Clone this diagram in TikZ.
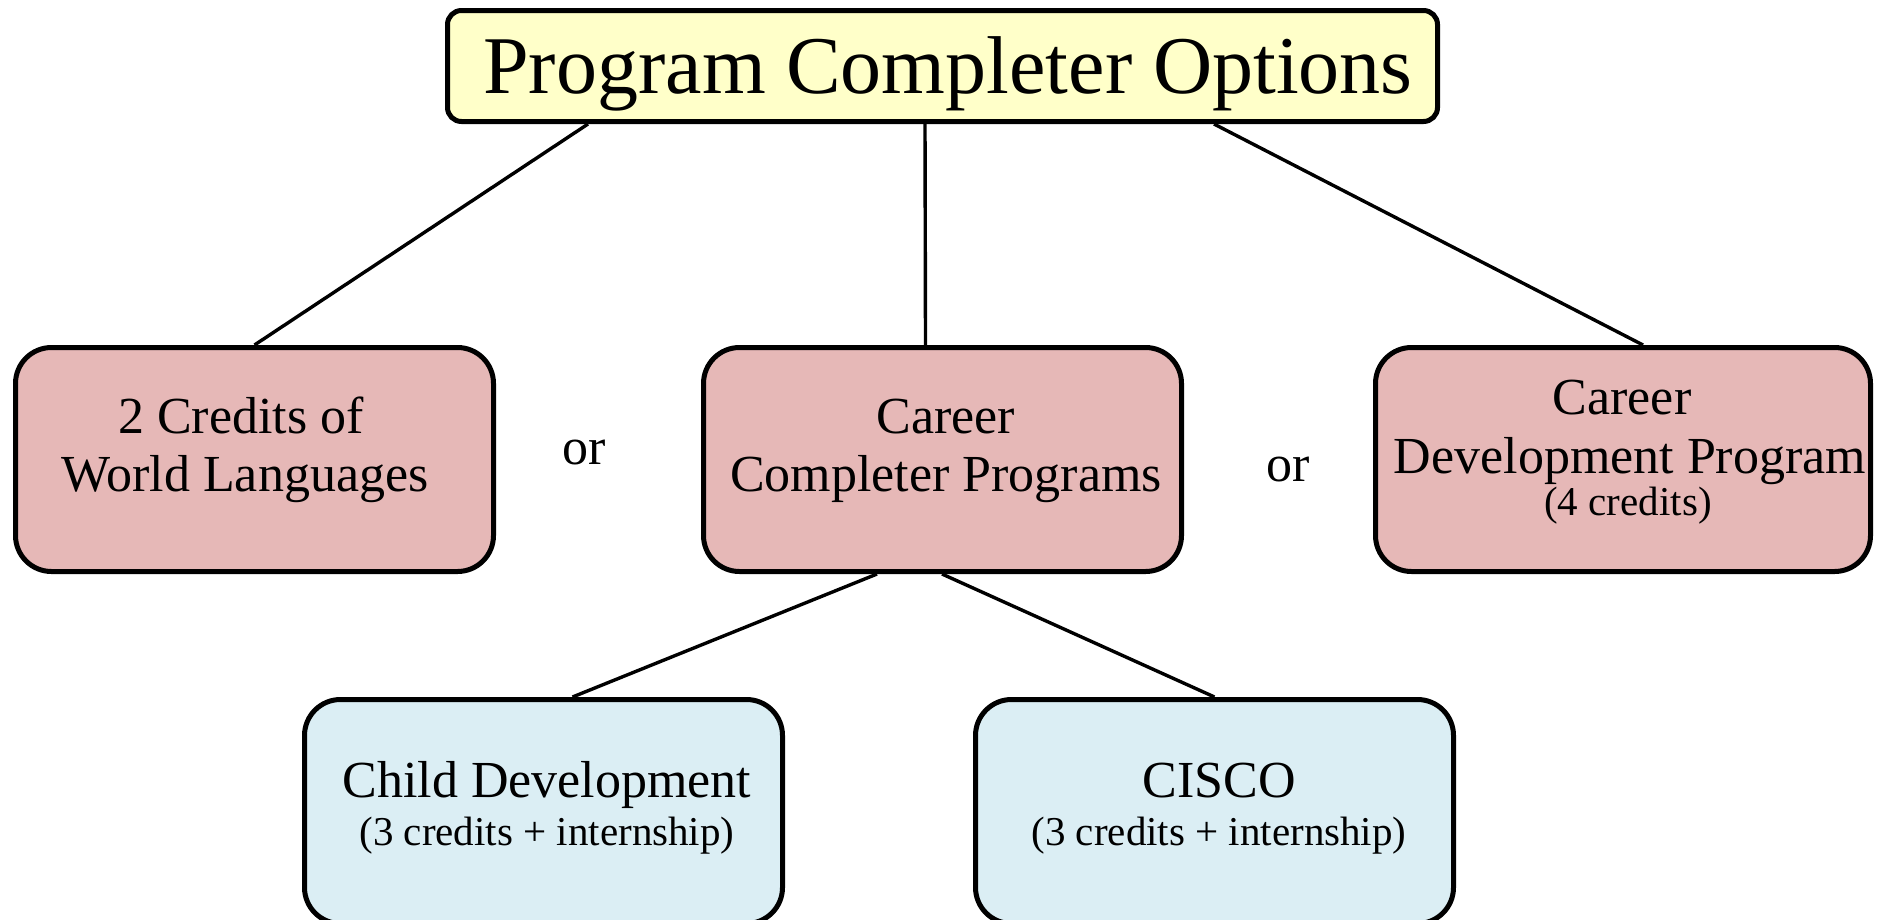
\documentclass[tikz,border=0pt]{standalone}
\usepackage{fontspec}
\setmainfont{Liberation Serif}
\usetikzlibrary{backgrounds}
\definecolor{titlefill}{HTML}{FFFFC9}
\definecolor{pinkfill}{HTML}{E6B8B7}
\definecolor{bluefill}{HTML}{DBEEF4}
\begin{document}
\begin{tikzpicture}[x=1pt,y=-1pt,
  boxbase/.style={draw=black, line width=5pt, inner sep=0pt, anchor=north west},
  titlebox/.style={boxbase, fill=titlefill, rounded corners=14pt},
  pinkbox/.style={boxbase, fill=pinkfill, rounded corners=36pt, minimum width=478pt, minimum height=224pt},
  bluebox/.style={boxbase, fill=bluefill, rounded corners=36pt, minimum width=478pt, minimum height=224pt},
  bigtxt/.style={anchor=base, inner sep=0pt, font=\fontsize{82pt}{90pt}\selectfont},
  midtxt/.style={anchor=base, inner sep=0pt, font=\fontsize{52pt}{59pt}\selectfont},
  smalltxt/.style={anchor=base, inner sep=0pt, font=\fontsize{41pt}{48pt}\selectfont},
  link/.style={draw=black, line width=3.4pt}]
\useasboundingbox (0,0) rectangle (1877,919);

% boxes (anchors at the outer edge of the border)
\node[titlebox, minimum width=990pt, minimum height=111pt] (top) at (445,8) {};
\node[pinkbox] (lang) at (13,345) {};
\node[pinkbox] (ccp) at (701,345) {};
\node[pinkbox, minimum width=495pt] (cdp) at (1373,345) {};
\node[bluebox] (child) at (302,697) {};
\node[bluebox] (cisco) at (973,697) {};

% texts
\node[bigtxt] (toptxt) at (948,93) {Program Completer Options};
\node[midtxt] (lang1) at (241,433) {2 Credits of};
\node[midtxt] (lang2) at (245,491) {World Languages};
\node[midtxt] (or1) at (584,464) {or};
\node[midtxt] (ccp1) at (946,433) {Career};
\node[midtxt] (ccp2) at (946,491) {Completer Programs};
\node[midtxt] (or2) at (1288,481) {or};
\node[midtxt] (cdp1) at (1622,414) {Career};
\node[midtxt] (cdp2) at (1630,473) {Development Program};
\node[smalltxt] (cdp3) at (1628,515) {(4 credits)};
\node[midtxt] (child1) at (547,797) {Child Development};
\node[smalltxt] (child2) at (547,845) {(3 credits + internship)};
\node[midtxt] (cisco1) at (1219,797) {CISCO};
\node[smalltxt] (cisco2) at (1219,845) {(3 credits + internship)};

% connectors
\begin{pgfonlayer}{background}
\draw[link] ([xshift=143pt]top.south west) -- (lang.north);
\draw[link] ([xshift=480pt]top.south west) -- ([xshift=-17pt]ccp.north);
\draw[link] ([xshift=769pt]top.south west) -- ([xshift=20pt]cdp.north);
\draw[link] ([xshift=176pt]ccp.south west) -- ([xshift=29pt]child.north);
\draw[link] ([xshift=241pt]ccp.south west) -- (cisco.north);
\end{pgfonlayer}
\end{tikzpicture}
\end{document}
